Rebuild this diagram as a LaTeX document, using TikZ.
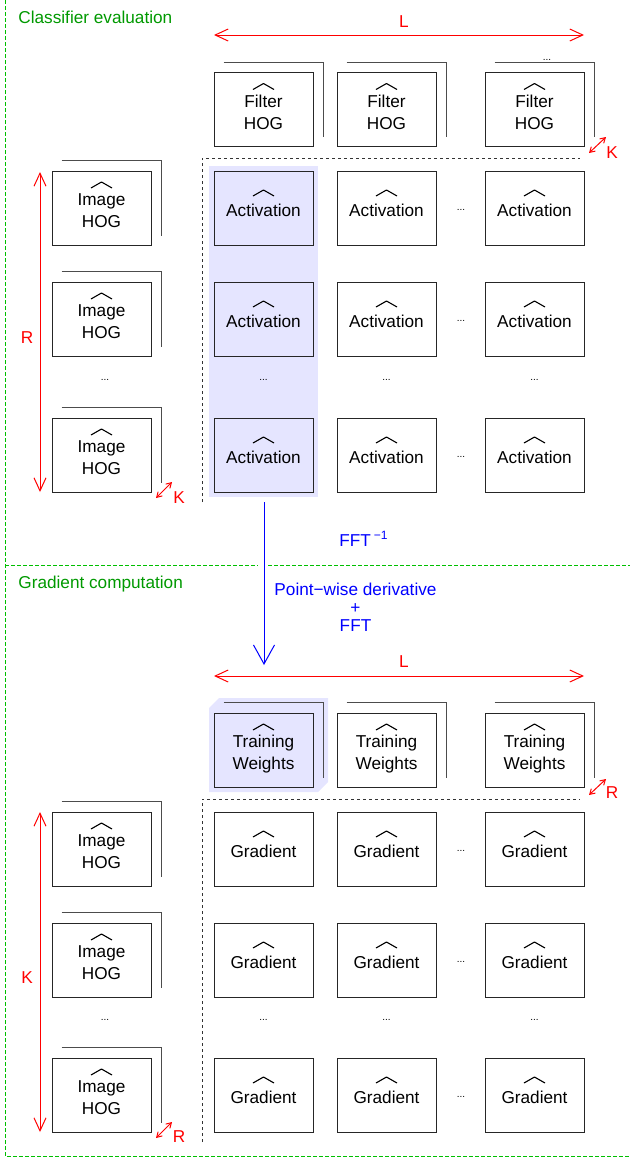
\documentclass[tikz,border=0pt]{standalone}
\usepackage{fontspec}
\setmainfont{Liberation Sans}
\usetikzlibrary{arrows.meta}

\newcommand\BackFrame[1]{%
\draw[backline]([shift={(10,-10)}]#1.north west)--([shift={(10,-10)}]#1.north east)--([shift={(10,-10)}]#1.south east);}

\begin{document}
\begin{tikzpicture}[x=.5pt,y=-.5pt,
every node/.style={font=\fontsize{8.6}{11}\selectfont},
hogbox/.style={draw=black!85,line width=.5pt,minimum width=49.5pt,minimum height=37pt,inner sep=0pt,align=center},
hatline/.style={black,line width=.55pt,line join=round},
hatone/.style={text height=8.2pt,text depth=0pt,path picture={\draw[hatline]([shift={(-10.5,-12)}]path picture bounding box.center)--([shift={(0,-18)}]path picture bounding box.center)--([shift={(10.5,-12)}]path picture bounding box.center);}},
hattwo/.style={text height=19.7pt,text depth=0pt,path picture={\draw[hatline]([shift={(-10.5,-20)}]path picture bounding box.center)--([shift={(0,-26)}]path picture bounding box.center)--([shift={(10.5,-20)}]path picture bounding box.center);}},
backline/.style={black!70,line width=.5pt},
gridline/.style={black!80,line width=.5pt,dash pattern=on 1.5pt off 1.5pt},
frameline/.style={green!75!black,line width=.5pt,dash pattern=on 2pt off 1pt},
title/.style={text=green!60!black,anchor=west,inner sep=0pt},
dots/.style={font=\fontsize{5}{6}\selectfont,inner sep=0pt},
dim/.style={red,line width=.5pt,{Straight Barb[length=6.5pt,width=6pt]}-{Straight Barb[length=6.5pt,width=6pt]}},
smalldim/.style={red,line width=.5pt,{Straight Barb[length=2.5pt,width=3pt]}-{Straight Barb[length=2.5pt,width=3pt]}},
dimlabel/.style={text=red,inner sep=0pt},
flow/.style={blue,line width=.5pt,-{Straight Barb[length=9.5pt,width=10.5pt]}}]
\useasboundingbox(0,0)rectangle(630,1158);
% highlighted column and weights
\fill[blue!10](209,166)rectangle(318,497);
\fill[blue!10](209,708)--(219,698)--(328,698)--(328,782)--(318,792)--(209,792)--cycle;
% section frames
\draw[frameline](5,0)--(5,1156)--(630,1156);
\draw[frameline](5,565)--(258,565);
\draw[frameline](268,565)--(630,565);
\node[title](T1)at(18,17){Classifier evaluation};
\node[title](T2)at(18,584){Gradient computation};
% classifier evaluation
\node[hogbox,hattwo](F1)at(263.5,109.5){Filter\\HOG};
\node[hogbox,hattwo](F2)at(386.5,109.5){Filter\\HOG};
\node[hogbox,hattwo](F3)at(534.5,109.5){Filter\\HOG};
\node[hogbox,hattwo](I1)at(101.5,208){Image\\HOG};
\node[hogbox,hattwo](I2)at(101.5,319){Image\\HOG};
\node[hogbox,hattwo](I3)at(101.5,455){Image\\HOG};
\node[hogbox,hatone](A11)at(263.5,208){Activation};
\node[hogbox,hatone](A12)at(386.5,208){Activation};
\node[hogbox,hatone](A13)at(534.5,208){Activation};
\node[hogbox,hatone](A21)at(263.5,319){Activation};
\node[hogbox,hatone](A22)at(386.5,319){Activation};
\node[hogbox,hatone](A23)at(534.5,319){Activation};
\node[hogbox,hatone](A31)at(263.5,455){Activation};
\node[hogbox,hatone](A32)at(386.5,455){Activation};
\node[hogbox,hatone](A33)at(534.5,455){Activation};
\BackFrame{F1}\BackFrame{F2}\BackFrame{F3}
\BackFrame{I1}\BackFrame{I2}\BackFrame{I3}
\begin{scope}[every node/.style={dots}]
\node(D0)at(547,60){...};
\node(D1)at(461,210){...};
\node(D2)at(461,321){...};
\node(D3)at(461,457){...};
\node(D4)at(105,380){...};
\node(D5)at(263.5,380){...};
\node(D6)at(386.5,380){...};
\node(D7)at(534.5,380){...};
\end{scope}
\draw[gridline](202,502)--(202,158)--(580,158);
\coordinate(LA)at(214,35);
\coordinate(LB)at(584,35);
\coordinate(RA)at(40,172);
\coordinate(RB)at(40,492);
\coordinate(KA)at(589,153);
\coordinate(KB)at(606,137);
\coordinate(KC)at(156,498);
\coordinate(KD)at(172,482);
\draw[dim](LA)--(LB);
\draw[dim](RA)--(RB);
\draw[smalldim](KA)--(KB);
\draw[smalldim](KC)--(KD);
\node[dimlabel](Ltop)at(404,22){L};
\node[dimlabel](Rtop)at(27,338){R};
\node[dimlabel](Ktop1)at(612,153){K};
\node[dimlabel](Ktop2)at(179,498){K};
% passage between the sections
\coordinate(FA)at(264,502);
\coordinate(FB)at(264,665);
\draw[flow](FA)--(FB);
\node[text=blue](FFTi)at(364,539){FFT\,\textsuperscript{−1}};
\node[text=blue,align=center,font=\fontsize{8.6}{9}\selectfont](PW)at(355.5,607){Point−wise derivative\\+\\FFT};
% gradient computation
\node[hogbox,hattwo](W1)at(263.5,750){Training\\Weights};
\node[hogbox,hattwo](W2)at(386.5,750){Training\\Weights};
\node[hogbox,hattwo](W3)at(534.5,750){Training\\Weights};
\node[hogbox,hattwo](J1)at(101.5,849){Image\\HOG};
\node[hogbox,hattwo](J2)at(101.5,960){Image\\HOG};
\node[hogbox,hattwo](J3)at(101.5,1095){Image\\HOG};
\node[hogbox,hatone](G11)at(263.5,849){Gradient};
\node[hogbox,hatone](G12)at(386.5,849){Gradient};
\node[hogbox,hatone](G13)at(534.5,849){Gradient};
\node[hogbox,hatone](G21)at(263.5,960){Gradient};
\node[hogbox,hatone](G22)at(386.5,960){Gradient};
\node[hogbox,hatone](G23)at(534.5,960){Gradient};
\node[hogbox,hatone](G31)at(263.5,1095){Gradient};
\node[hogbox,hatone](G32)at(386.5,1095){Gradient};
\node[hogbox,hatone](G33)at(534.5,1095){Gradient};
\BackFrame{W1}\BackFrame{W2}\BackFrame{W3}
\BackFrame{J1}\BackFrame{J2}\BackFrame{J3}
\begin{scope}[every node/.style={dots}]
\node(E1)at(461,851){...};
\node(E2)at(461,962){...};
\node(E3)at(461,1097){...};
\node(E4)at(105,1020){...};
\node(E5)at(263.5,1020){...};
\node(E6)at(386.5,1020){...};
\node(E7)at(534.5,1020){...};
\end{scope}
\draw[gridline](202,1142)--(202,799)--(580,799);
\coordinate(LC)at(214,676);
\coordinate(LD)at(584,676);
\coordinate(RC)at(40,812);
\coordinate(RD)at(40,1132);
\coordinate(RE)at(589,795);
\coordinate(RF)at(606,779);
\coordinate(RG)at(156,1138);
\coordinate(RH)at(172,1122);
\draw[dim](LC)--(LD);
\draw[dim](RC)--(RD);
\draw[smalldim](RE)--(RF);
\draw[smalldim](RG)--(RH);
\node[dimlabel](Lbot)at(404,662){L};
\node[dimlabel](Kbot)at(27,978){K};
\node[dimlabel](Rbot1)at(612,793){R};
\node[dimlabel](Rbot2)at(179,1137){R};
\end{tikzpicture}
\end{document}
